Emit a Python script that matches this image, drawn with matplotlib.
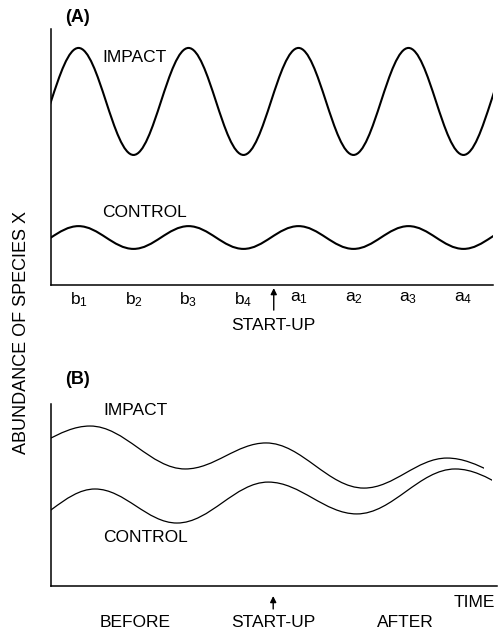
import matplotlib
matplotlib.use("Agg")
import matplotlib.pyplot as plt
from matplotlib.path import Path
from matplotlib.patches import PathPatch, Rectangle

plt.rcParams['font.family'] = ['Liberation Sans', 'DejaVu Sans']
plt.rcParams['mathtext.fontset'] = 'custom'
plt.rcParams['mathtext.rm'] = 'Liberation Sans'
plt.rcParams['mathtext.default'] = 'regular'

# ---------------- data (time units; abundance 0-100) ----------------
# Panel A: extrema (peaks / troughs) of each series
impact_a_t = [0, 1, 2, 3, 4, 5, 6, 7, 8, 9]
impact_a_v = [50.8, 92.6, 50.8, 92.6, 50.8, 92.6, 50.8, 92.6, 50.8, 92.6]
control_a_t = [0, 1, 2, 3, 4, 5, 6, 7, 8, 9]
control_a_v = [14.1, 23.0, 14.1, 23.0, 14.1, 23.0, 14.1, 23.0, 14.1, 23.0]
tick_a_t = [1, 2, 3, 4, 5, 6, 7, 8]
tick_a_labels = ['b_1', 'b_2', 'b_3', 'b_4', 'a_1', 'a_2', 'a_3', 'a_4']
startup_a_t = 4.55

# Panel B: extrema of each series and the visible time span
impact_b_t = [-0.39, 1.21, 2.94, 4.41, 6.19, 7.70, 9.30]
impact_b_v = [71.9, 87.9, 64.3, 78.6, 53.8, 70.3, 55.6]
impact_b_span = (0.5, 8.37)
control_b_t = [-0.25, 1.30, 2.79, 4.45, 6.06, 7.85, 9.55]
control_b_v = [31.4, 53.3, 34.6, 57.1, 39.6, 64.3, 46.1]
control_b_span = (0.5, 8.52)
startup_b_t = 4.54
period_labels = ['BEFORE', 'START-UP', 'AFTER']
period_t = [2.03, 4.55, 6.95]

K = 0.3634  # cubic approximation of a half cosine between extrema
FS = 12.5


def wave_patch(ts, vs, lw):
    verts = [(ts[0], vs[0])]
    codes = [Path.MOVETO]
    for i in range(len(ts) - 1):
        x0, y0, x1, y1 = ts[i], vs[i], ts[i + 1], vs[i + 1]
        dx = x1 - x0
        verts += [(x0 + K * dx, y0), (x1 - K * dx, y1), (x1, y1)]
        codes += [Path.CURVE4] * 3
    return PathPatch(Path(verts, codes), fill=False, edgecolor='black',
                     lw=lw, capstyle='butt', joinstyle='round')


W, H = 499, 633
fig = plt.figure(figsize=(W / 100, H / 100), dpi=100)


def px_axes(l, r, b, t):
    return fig.add_axes([l / W, 1 - b / H, (r - l) / W, (b - t) / H])


def style(ax):
    for s in ('top', 'right'):
        ax.spines[s].set_visible(False)
    for s in ('left', 'bottom'):
        ax.spines[s].set_linewidth(1.1)
    ax.set_yticks([])
    ax.set_ylim(0, 100)


arrow_props = dict(arrowstyle='-|>', color='black', lw=1.0,
                   mutation_scale=9, shrinkA=0, shrinkB=0)

# ---------------- panel A ----------------
axA = px_axes(51, 493, 285, 29)
style(axA)
axA.set_xlim(0.5, 0.5 + 442 / 55)
for ts, vs in ((impact_a_t, impact_a_v), (control_a_t, control_a_v)):
    p = wave_patch(ts, vs, 1.5)
    axA.add_patch(p)
    p.set_clip_path(axA.patch)
axA.set_xticks(tick_a_t)
axA.set_xticklabels([f'${s}$' for s in tick_a_labels], fontsize=12.5)
axA.tick_params(axis='x', length=0, pad=4)
axA.text(1.427, 88.7, 'IMPACT', fontsize=FS, va='center', ha='left')
axA.text(1.427, 28.5, 'CONTROL', fontsize=FS, va='center', ha='left')
axA.annotate('', xy=(startup_a_t, -0.012), xytext=(startup_a_t, -0.098),
             xycoords=('data', 'axes fraction'),
             textcoords=('data', 'axes fraction'), arrowprops=arrow_props)
axA.text(startup_a_t, -0.16, 'START-UP', fontsize=FS, ha='center',
         va='center', transform=axA.get_xaxis_transform())

# ---------------- panel B ----------------
axB = px_axes(51, 497, 586, 404)
style(axB)
axB.set_xlim(0.5, 0.5 + 446 / 55)
axB.set_xticks([])
for ts, vs, span in ((impact_b_t, impact_b_v, impact_b_span),
                     (control_b_t, control_b_v, control_b_span)):
    p = wave_patch(ts, vs, 0.9)
    axB.add_patch(p)
    p.set_clip_path(Rectangle((span[0], 0), span[1] - span[0], 100,
                              transform=axB.transData))
axB.text(1.445, 96.2, 'IMPACT', fontsize=FS, va='center', ha='left')
axB.text(1.445, 26.9, 'CONTROL', fontsize=FS, va='center', ha='left')
axB.annotate('', xy=(startup_b_t, -0.055), xytext=(startup_b_t, -0.126),
             xycoords=('data', 'axes fraction'),
             textcoords=('data', 'axes fraction'), arrowprops=arrow_props)
for lab, t in zip(period_labels, period_t):
    axB.text(t, -0.203, lab, fontsize=FS, ha='center', va='center',
             transform=axB.get_xaxis_transform())
axB.text(8.57, -0.088, 'TIME', fontsize=FS, ha='right', va='center',
         transform=axB.get_xaxis_transform())

# ---------------- panel letters and shared y label ----------------
fig.text(78 / W, 1 - 17 / H, '(A)', fontsize=13, fontweight='bold',
         ha='center', va='center')
fig.text(78 / W, 1 - 380 / H, '(B)', fontsize=13, fontweight='bold',
         ha='center', va='center')
fig.text(22 / W, 1 - 332 / H, 'ABUNDANCE OF SPECIES X', fontsize=13,
         rotation=90, ha='center', va='center')

fig.savefig('out.png', dpi=100)
